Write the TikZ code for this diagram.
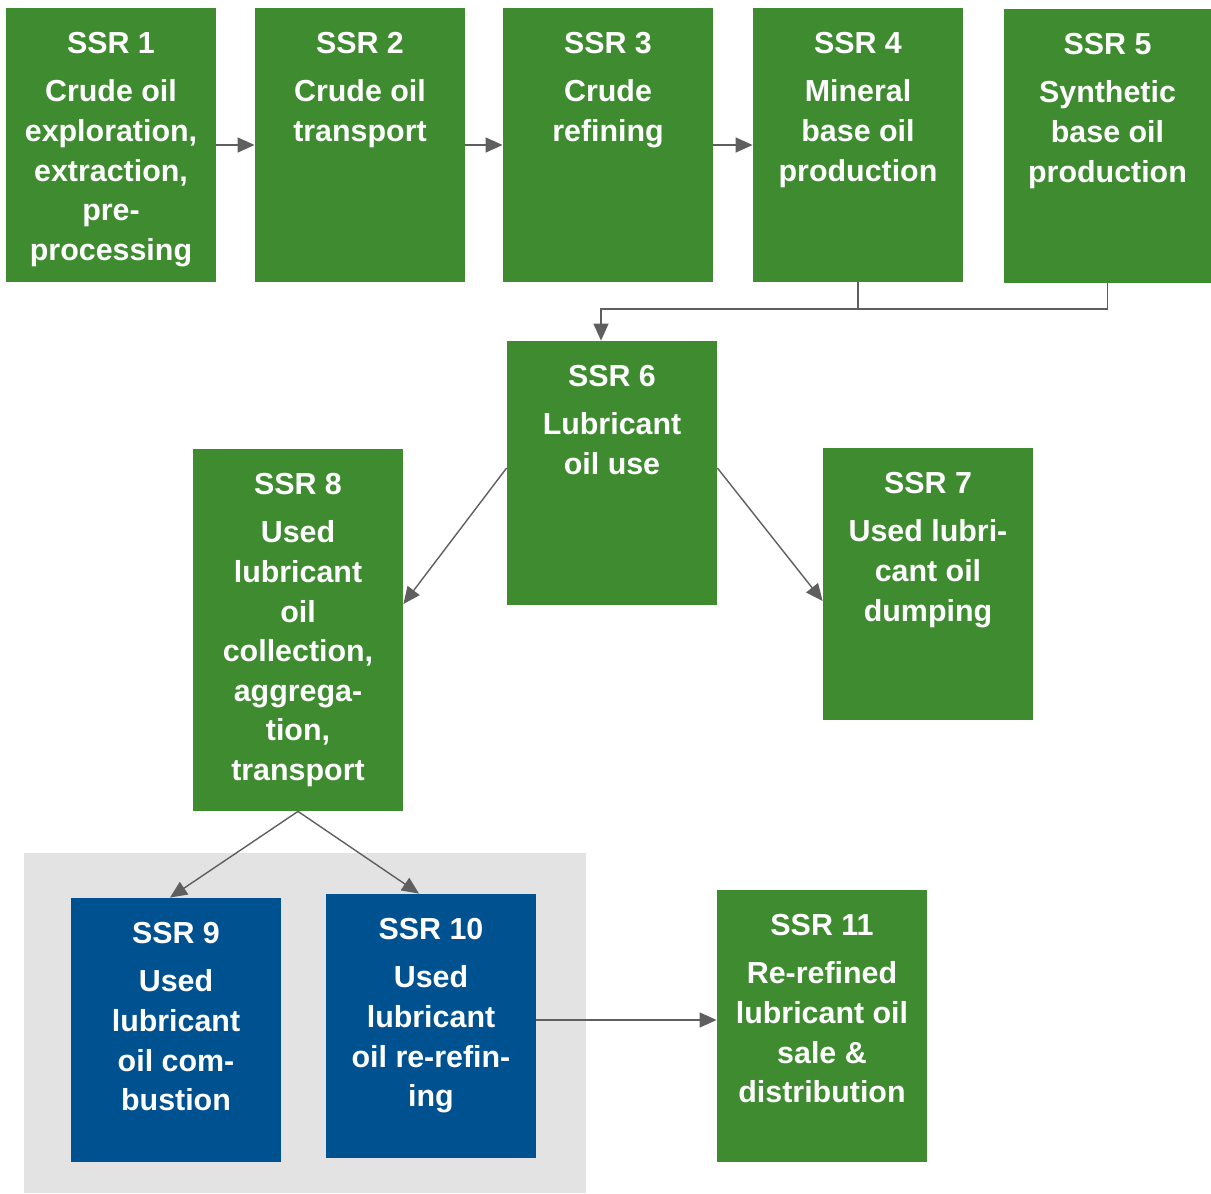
\documentclass[tikz,border=0pt]{standalone}
\usepackage{fontspec}
\setmainfont{Liberation Sans}
\usetikzlibrary{arrows.meta,positioning}

\definecolor{ssrgreen}{RGB}{62,139,48}
\definecolor{ssrblue}{RGB}{0,81,143}
\definecolor{bggray}{RGB}{227,227,227}
\definecolor{argray}{RGB}{95,95,95}

\tikzset{
  ssrbox/.style={fill=#1, minimum width=105pt, inner sep=0pt},
  ssrtext/.style={text=white, align=center, inner sep=0pt,
    font=\bfseries\fontsize{15.2}{19.8}\selectfont},
  flow/.style={draw=argray, line width=0.7pt},
  flowarr/.style={flow, -{Triangle[length=8.5pt,width=7.5pt]}}
}

\begin{document}
\begin{tikzpicture}[x=0.5pt,y=-0.5pt]
\useasboundingbox (0,0) rectangle (1211,1194);
\fill[bggray] (24,853) rectangle (586,1193);

\node[ssrbox=ssrgreen, minimum height=137pt] (s1) at (111,145) {};
\node[ssrbox=ssrgreen, minimum height=137pt] (s2) at (360,145) {};
\node[ssrbox=ssrgreen, minimum height=137pt] (s3) at (608,145) {};
\node[ssrbox=ssrgreen, minimum height=137pt] (s4) at (858,145) {};
\node[ssrbox=ssrgreen, minimum height=137pt, minimum width=103.5pt] (s5) at (1107.5,146) {};
\node[ssrbox=ssrgreen, minimum height=132pt] (s6) at (612,473) {};
\node[ssrbox=ssrgreen, minimum height=136pt] (s7) at (928,584) {};
\node[ssrbox=ssrgreen, minimum height=181pt] (s8) at (298,630) {};
\node[ssrbox=ssrblue, minimum height=132pt] (s9) at (176,1030) {};
\node[ssrbox=ssrblue, minimum height=132pt] (s10) at (431,1026) {};
\node[ssrbox=ssrgreen, minimum height=136pt] (s11) at (822,1026) {};

\node[ssrtext, below=12pt of s1.north] (s1txt) {SSR 1\\[4.5pt]Crude oil\\exploration,\\extraction,\\pre-\\processing};
\node[ssrtext, below=12pt of s2.north] (s2txt) {SSR 2\\[4.5pt]Crude oil\\transport};
\node[ssrtext, below=12pt of s3.north] (s3txt) {SSR 3\\[4.5pt]Crude\\refining};
\node[ssrtext, below=12pt of s4.north] (s4txt) {SSR 4\\[4.5pt]Mineral\\base oil\\production};
\node[ssrtext, below=12pt of s5.north] (s5txt) {SSR 5\\[4.5pt]Synthetic\\base oil\\production};
\node[ssrtext, below=12pt of s6.north] (s6txt) {SSR 6\\[4.5pt]Lubricant\\oil use};
\node[ssrtext, below=12pt of s7.north] (s7txt) {SSR 7\\[4.5pt]Used lubri-\\cant oil\\dumping};
\node[ssrtext, below=12pt of s8.north] (s8txt) {SSR 8\\[4.5pt]Used\\lubricant\\oil\\collection,\\aggrega-\\tion,\\transport};
\node[ssrtext, below=12pt of s9.north] (s9txt) {SSR 9\\[4.5pt]Used\\lubricant\\oil com-\\bustion};
\node[ssrtext, below=12pt of s10.north] (s10txt) {SSR 10\\[4.5pt]Used\\lubricant\\oil re-refin-\\ing};
\node[ssrtext, below=12pt of s11.north] (s11txt) {SSR 11\\[4.5pt]Re-refined\\lubricant oil\\sale \&\\distribution};

\draw[flowarr] (s1.east) -- (s2.west);
\draw[flowarr] (s2.east) -- (s3.west);
\draw[flowarr] (s3.east) -- (s4.west);

% base oils into lubricant use
\coordinate (cJoin) at (601,309);
\draw[flow] (s4.south) -- (s4.south |- cJoin);
\draw[flowarr] (s5.south) |- (cJoin) -- (cJoin |- s6.north);

\draw[flowarr] ([yshift=2.5pt]s6.west) -- ([yshift=13pt]s8.east);
\draw[flowarr] ([yshift=2.5pt]s6.east) -- ([yshift=-8.5pt]s7.west);
\draw[flowarr] (s8.south) -- ([xshift=-3pt]s9.north);
\draw[flowarr] (s8.south) -- ([xshift=-6pt]s10.north);
\draw[flowarr] ([yshift=3pt]s10.east) -- ([yshift=3pt]s11.west);
\end{tikzpicture}
\end{document}
